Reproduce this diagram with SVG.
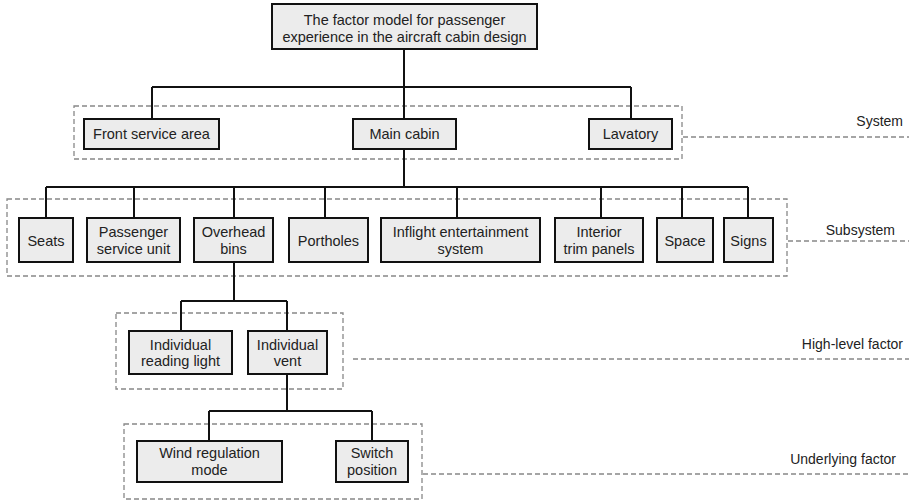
<svg xmlns="http://www.w3.org/2000/svg" width="909" height="501" viewBox="0 0 909 501">
<style>
.box{fill:#ececec;stroke:#111;stroke-width:2}
.t{font-family:"Liberation Sans","Noto Sans",Arial,sans-serif;font-size:14.5px;fill:#222;text-anchor:middle}
.lbl{font-family:"Liberation Sans","Noto Sans",Arial,sans-serif;font-size:14px;fill:#222;text-anchor:end}
.con{fill:none;stroke:#111;stroke-width:2}
.dash{fill:none;stroke:#888;stroke-width:1.3;stroke-dasharray:5 3}
</style>
<rect width="909" height="501" fill="#fff"/>
<g id="groups">
<rect class="dash" x="74" y="106" width="608" height="53"/>
<line class="dash" x1="683" y1="137" x2="909" y2="137"/>
<text class="lbl" x="903" y="126">System</text>
<rect class="dash" x="7" y="199" width="780" height="77"/>
<line class="dash" x1="788" y1="241" x2="909" y2="241"/>
<text class="lbl" x="895" y="235">Subsystem</text>
<rect class="dash" x="116" y="313" width="227" height="76"/>
<line class="dash" x1="353" y1="359" x2="909" y2="359"/>
<text class="lbl" x="903" y="349">High-level factor</text>
<rect class="dash" x="124" y="424" width="298" height="75"/>
<line class="dash" x1="423" y1="474" x2="909" y2="474"/>
<text class="lbl" x="896" y="464">Underlying factor</text>
</g>
<g id="connectors">
<path class="con" d="M404 49V87M152 87H631M152 87V119M404 87V119M631 87V119"/>
<path class="con" d="M404 149V187M46 187H748M46 187V218M134 187V218M234 187V218M325 187V218M457 187V218M601 187V218M682 187V218M748 187V218"/>
<path class="con" d="M234 262V301M181 301H287M181 301V331M287 301V331"/>
<path class="con" d="M287 374V411M209 411H372M209 411V441M372 411V441"/>
</g>
<g id="root"><rect class="box" x="272" y="4" width="265" height="45"/><text class="t" x="404.5" y="25">The factor model for passenger</text><text class="t" x="404.5" y="42">experience in the aircraft cabin design</text></g>
<g id="front"><rect class="box" x="84" y="119" width="135" height="30"/><text class="t" x="151.5" y="139">Front service area</text></g>
<g id="main"><rect class="box" x="353" y="119" width="103" height="30"/><text class="t" x="404.5" y="139">Main cabin</text></g>
<g id="lavatory"><rect class="box" x="589" y="119" width="83" height="30"/><text class="t" x="630.5" y="139">Lavatory</text></g>
<g id="seats"><rect class="box" x="19" y="218" width="54" height="44"/><text class="t" x="46" y="246">Seats</text></g>
<g id="psu"><rect class="box" x="87" y="218" width="93" height="44"/><text class="t" x="133.5" y="237">Passenger</text><text class="t" x="133.5" y="254">service unit</text></g>
<g id="bins"><rect class="box" x="194" y="218" width="79" height="44"/><text class="t" x="233.5" y="237">Overhead</text><text class="t" x="233.5" y="254">bins</text></g>
<g id="portholes"><rect class="box" x="289" y="218" width="79" height="44"/><text class="t" x="328.5" y="246">Portholes</text></g>
<g id="ife"><rect class="box" x="381" y="218" width="159" height="44"/><text class="t" x="460.5" y="237">Inflight entertainment</text><text class="t" x="460.5" y="254">system</text></g>
<g id="trim"><rect class="box" x="555" y="218" width="88" height="44"/><text class="t" x="599" y="237">Interior</text><text class="t" x="599" y="254">trim panels</text></g>
<g id="space"><rect class="box" x="657" y="218" width="56" height="44"/><text class="t" x="685" y="246">Space</text></g>
<g id="signs"><rect class="box" x="724" y="218" width="49" height="44"/><text class="t" x="748.5" y="246">Signs</text></g>
<g id="light"><rect class="box" x="129" y="331" width="103" height="43"/><text class="t" x="180.5" y="350">Individual</text><text class="t" x="180.5" y="366">reading light</text></g>
<g id="vent"><rect class="box" x="248" y="331" width="79" height="43"/><text class="t" x="287.5" y="350">Individual</text><text class="t" x="287.5" y="366">vent</text></g>
<g id="wind"><rect class="box" x="137" y="441" width="145" height="41"/><text class="t" x="209.5" y="458">Wind regulation</text><text class="t" x="209.5" y="475">mode</text></g>
<g id="switch"><rect class="box" x="336" y="441" width="72" height="41"/><text class="t" x="372" y="458">Switch</text><text class="t" x="372" y="475">position</text></g>
</svg>
